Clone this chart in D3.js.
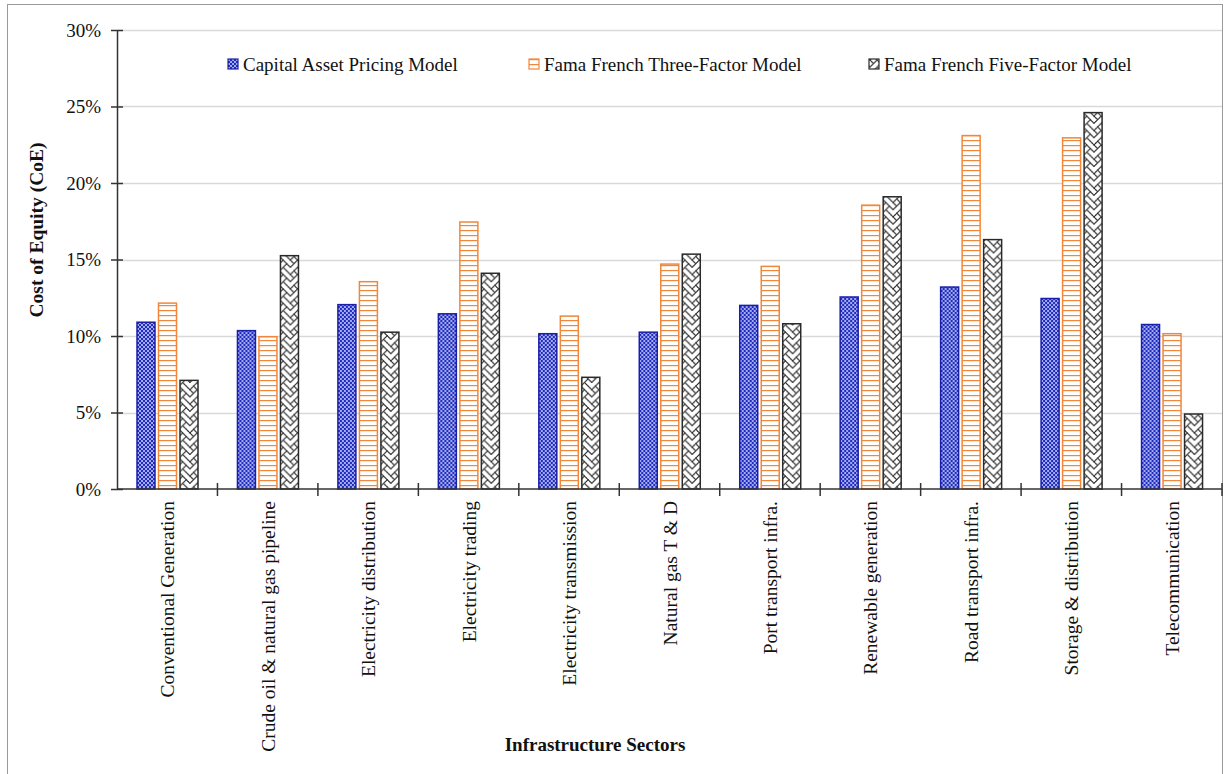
<!DOCTYPE html>
<html>
<head>
<meta charset="utf-8">
<script src="https://cdn.jsdelivr.net/npm/d3@7"></script>
<style>
  html, body { margin: 0; padding: 0; background: #fff; }
  svg { display: block; }
  text { font-family: "Liberation Serif", "Times New Roman", serif; fill: #111; }
</style>
</head>
<body>
<svg id="chart" width="1225" height="774"></svg>
<script>
// Sector names
const categories = [
  "Conventional Generation",
  "Crude oil & natural gas pipeline",
  "Electricity distribution",
  "Electricity trading",
  "Electricity transmission",
  "Natural gas T & D",
  "Port transport infra.",
  "Renewable generation",
  "Road transport infra.",
  "Storage & distribution",
  "Telecommunication"
];

// Cost of equity (%) by model
const seriesNames = [
  "Capital Asset Pricing Model",
  "Fama French Three-Factor Model",
  "Fama French Five-Factor Model"
];
const capmValues = [10.9, 10.35, 12.05, 11.45, 10.15, 10.25, 12.0, 12.55, 13.2, 12.45, 10.75];
const ff3Values  = [12.15, 9.95, 13.55, 17.45, 11.3, 14.7, 14.55, 18.55, 23.1, 22.95, 10.15];
const ff5Values  = [7.1, 15.25, 10.25, 14.1, 7.3, 15.35, 10.8, 19.1, 16.3, 24.6, 4.9];

const yTicks = [0, 5, 10, 15, 20, 25, 30];

const seriesValues = [capmValues, ff3Values, ff5Values];

const svg = d3.select("#chart");

// outer frame
svg.append("rect")
  .attr("x", 7.5).attr("y", 4.5)
  .attr("width", 1215).attr("height", 775)
  .attr("fill", "none").attr("stroke", "#9a9a9a").attr("stroke-width", 1);

const margin = { left: 117, right: 1222, top: 30, bottom: 489 };

const x0 = d3.scaleBand().domain(categories).range([margin.left, margin.right]).padding(0);
const x1 = d3.scaleBand().domain(seriesNames).range([20, 81]).paddingInner(0.163).paddingOuter(0);
const y = d3.scaleLinear().domain([0, 30]).range([margin.bottom, margin.top]);

// fill patterns
const defs = svg.append("defs");

// blue checker
const pBlue = defs.append("pattern").attr("id", "pat-capm")
  .attr("patternUnits", "userSpaceOnUse").attr("width", 4).attr("height", 4);
pBlue.append("rect").attr("width", 4).attr("height", 4).attr("fill", "#1f2cc4");
pBlue.append("rect").attr("x", 0).attr("y", 0).attr("width", 2).attr("height", 2).attr("fill", "#ffffff").attr("opacity", 0.6);
pBlue.append("rect").attr("x", 2).attr("y", 2).attr("width", 2).attr("height", 2).attr("fill", "#ffffff").attr("opacity", 0.6);

// orange horizontal lines
const pOrange = defs.append("pattern").attr("id", "pat-ff3")
  .attr("patternUnits", "userSpaceOnUse").attr("width", 6).attr("height", 5);
pOrange.append("rect").attr("width", 6).attr("height", 5).attr("fill", "#ffffff");
pOrange.append("rect").attr("x", 0).attr("y", 0).attr("width", 6).attr("height", 1.2).attr("fill", "#f0873a");

// black weave: 8x8 bitmap, drawn as diagonal strokes joining neighbouring set cells
const weaveRows = [0x88, 0x54, 0x22, 0x45, 0x88, 0x14, 0x22, 0x51];
const cell = 1.8;
const tile = 8 * cell;
const bit = (r, c) => (weaveRows[((r % 8) + 8) % 8] & (0x80 >> (((c % 8) + 8) % 8))) !== 0;
const pBlack = defs.append("pattern").attr("id", "pat-ff5")
  .attr("patternUnits", "userSpaceOnUse").attr("width", tile).attr("height", tile);
pBlack.append("rect").attr("width", tile).attr("height", tile).attr("fill", "#ffffff");
const segs = [];
for (let r = -1; r < 9; r++) {
  for (let c = -1; c < 9; c++) {
    if (!bit(r, c)) continue;
    [[1, 1], [1, -1]].forEach(([dr, dc]) => {
      if (bit(r + dr, c + dc)) segs.push([c, r, c + dc, r + dr]);
    });
  }
}
pBlack.selectAll("line").data(segs).join("line")
  .attr("x1", d => (d[0] + 0.5) * cell).attr("y1", d => (d[1] + 0.5) * cell)
  .attr("x2", d => (d[2] + 0.5) * cell).attr("y2", d => (d[3] + 0.5) * cell)
  .attr("stroke", "#222").attr("stroke-width", 1).attr("stroke-linecap", "round");

const fills = ["url(#pat-capm)", "url(#pat-ff3)", "url(#pat-ff5)"];
const strokes = ["#1a1fa8", "#f0873a", "#2a2a2a"];

// gridlines
svg.append("g").selectAll("line")
  .data(yTicks.filter(t => t > 0))
  .join("line")
  .attr("x1", margin.left).attr("x2", margin.right)
  .attr("y1", d => Math.round(y(d)) + 0.5).attr("y2", d => Math.round(y(d)) + 0.5)
  .attr("stroke", "#d9d9d9").attr("stroke-width", 1.5);

// bars
const groups = svg.append("g").selectAll("g")
  .data(categories)
  .join("g")
  .attr("transform", d => `translate(${x0(d)},0)`);

groups.selectAll("rect")
  .data((d, i) => seriesNames.map((s, k) => ({ series: s, k, value: seriesValues[k][i] })))
  .join("rect")
  .attr("x", d => x1(d.series))
  .attr("y", d => y(d.value))
  .attr("width", x1.bandwidth())
  .attr("height", d => y(0) - y(d.value))
  .attr("fill", d => fills[d.k])
  .attr("stroke", d => strokes[d.k])
  .attr("stroke-width", 1.5);

// y axis
const yAxis = d3.axisLeft(y).tickValues(yTicks).tickFormat(d => d + "%").tickSize(0).tickPadding(16);
const gy = svg.append("g").attr("transform", `translate(${margin.left},0)`).call(yAxis);
gy.select(".domain").attr("stroke", "#333").attr("stroke-width", 1.5);
gy.selectAll(".tick text").attr("font-size", 19).attr("font-family", "Liberation Serif").attr("fill", "#111");
gy.selectAll(".tick").append("line")
  .attr("x1", -6).attr("x2", 6).attr("stroke", "#333").attr("stroke-width", 1.5);

// x axis
const gx = svg.append("g").attr("transform", `translate(0,${margin.bottom})`);
gx.append("line")
  .attr("x1", margin.left).attr("x2", margin.right)
  .attr("stroke", "#333").attr("stroke-width", 1.5);
const boundaries = categories.map(c => x0(c)).concat([margin.right]);
gx.selectAll("line.sep")
  .data(boundaries.slice(1))
  .join("line").attr("class", "sep")
  .attr("x1", d => d).attr("x2", d => d)
  .attr("y1", -6).attr("y2", 7)
  .attr("stroke", "#333").attr("stroke-width", 1.5);

gx.selectAll("text.cat")
  .data(categories)
  .join("text").attr("class", "cat")
  .attr("transform", d => `translate(${x0(d) + x0.bandwidth() / 2 + 7},${12}) rotate(-90)`)
  .attr("text-anchor", "end")
  .attr("font-size", 19.5)
  .text(d => d);

// axis titles
svg.append("text")
  .attr("transform", `translate(43,230) rotate(-90)`)
  .attr("text-anchor", "middle")
  .attr("font-size", 19.5).attr("font-weight", "bold")
  .text("Cost of Equity (CoE)");

svg.append("text")
  .attr("x", 595).attr("y", 751)
  .attr("text-anchor", "middle")
  .attr("font-size", 19).attr("font-weight", "bold")
  .text("Infrastructure Sectors");

// legend
const legendX = [228, 529, 869];
const legend = svg.append("g").selectAll("g")
  .data(seriesNames)
  .join("g")
  .attr("transform", (d, i) => `translate(${legendX[i]},59)`);
legend.append("rect")
  .attr("width", 10).attr("height", 10)
  .attr("fill", (d, i) => fills[i])
  .attr("stroke", (d, i) => strokes[i]).attr("stroke-width", 1.2);
legend.append("text")
  .attr("x", 15).attr("y", 12)
  .attr("font-size", 19)
  .text(d => d);
</script>
</body>
</html>
